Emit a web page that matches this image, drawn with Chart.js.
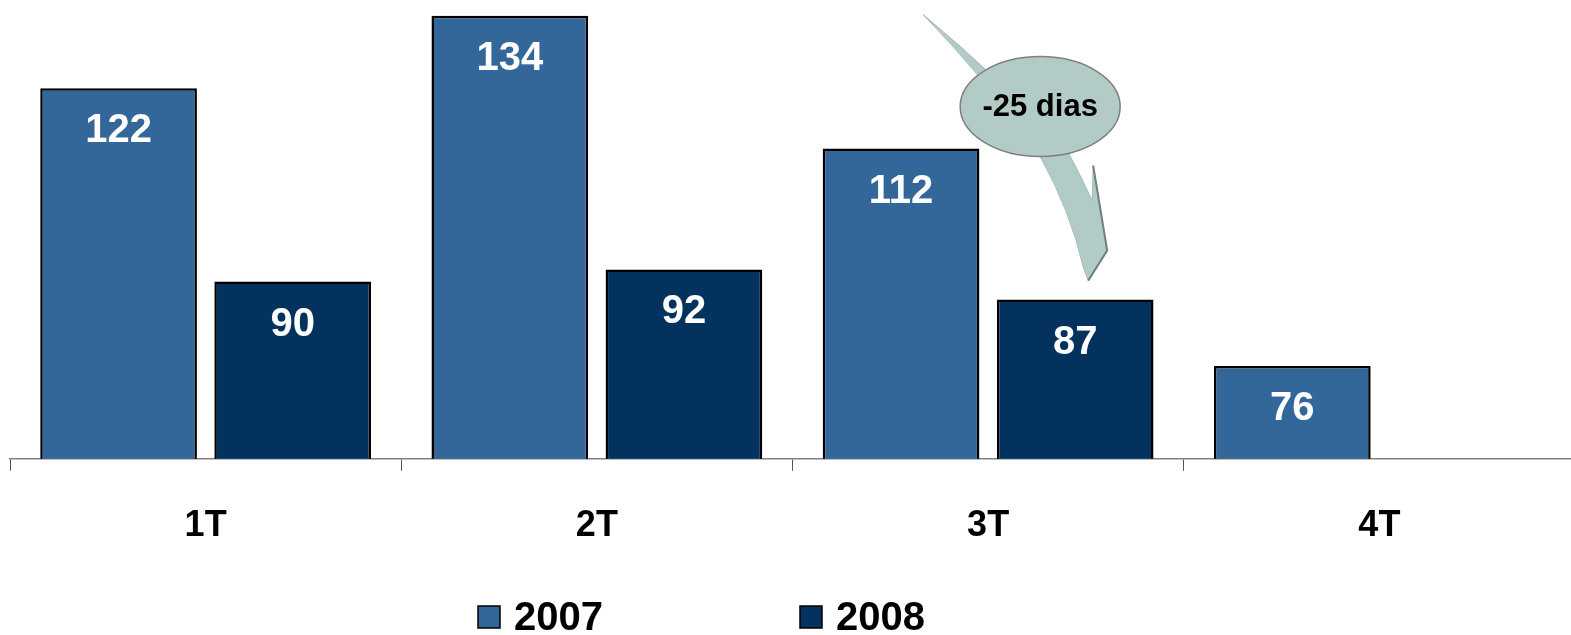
<!DOCTYPE html>
<html lang="pt">
<head>
<meta charset="UTF-8">
<title>Prazo médio por trimestre</title>
<style>
    html, body { margin: 0; padding: 0; background: #ffffff; overflow: hidden; }
    .wrap { width: 1575px; height: 635px; position: relative; }
</style>
</head>
<body>
<div class="wrap"><canvas id="grafico"></canvas></div>

<script src="https://cdn.jsdelivr.net/npm/chart.js@4.4.3/dist/chart.umd.min.js"></script>
<script>
    // dados
    const trimestres = ['1T', '2T', '3T', '4T'];
    const serie2007 = [122, 134, 112, 76];
    const serie2008 = [90, 92, 87, null];
    const anos = ['2007', '2008'];
    const textoSeta = '-25 dias';

    const FONTE = '"Liberation Sans", Arial, sans-serif';
    const cores = ['#336699', '#03325f'];

    // rótulos brancos dentro das barras
    const rotulos = {
        id: 'rotulos',
        afterDatasetsDraw(chart) {
            const ctx = chart.ctx;
            ctx.save();
            ctx.fillStyle = '#ffffff';
            ctx.font = 'bold 40px ' + FONTE;
            ctx.textAlign = 'center';
            ctx.textBaseline = 'middle';
            chart.data.datasets.forEach((ds, i) => {
                chart.getDatasetMeta(i).data.forEach((bar, j) => {
                    if (ds.data[j] == null) return;
                    ctx.fillText(ds.data[j], bar.x, bar.y + 43);
                });
            });
            ctx.restore();
        }
    };

    // seta curva com balão "-25 dias", presa à barra 3T/2008
    const seta = {
        id: 'seta',
        afterDatasetsDraw(chart) {
            const b = chart.getDatasetMeta(1).data[2];
            if (!b) return;
            const ox = b.x + 13, oy = b.y - 19; // ponta da seta
            const p = (dx, dy) => [ox + dx, oy + dy];
            const ctx = chart.ctx;
            ctx.save();
            ctx.beginPath();
            ctx.moveTo(...p(-165, -266));
            ctx.quadraticCurveTo(...p(-98, -197), ...p(-48, -124));
            ctx.quadraticCurveTo(...p(-18, -70), ...p(-5, -14));
            ctx.lineTo(...p(0, 0));
            ctx.lineTo(...p(19, -30));
            ctx.lineTo(...p(5, -115));
            ctx.lineTo(...p(4, -80));
            ctx.quadraticCurveTo(...p(-10, -110), ...p(-21, -130));
            ctx.quadraticCurveTo(...p(-88, -202), ...p(-165, -266));
            ctx.closePath();
            ctx.fillStyle = '#b3cbc6';
            ctx.fill();
            ctx.strokeStyle = '#a4bab6';
            ctx.lineWidth = 1;
            ctx.stroke();
            // sombra na borda direita da ponta
            ctx.beginPath();
            ctx.moveTo(...p(5, -115));
            ctx.lineTo(...p(19, -30));
            ctx.lineTo(...p(0, 0));
            ctx.strokeStyle = '#6f807d';
            ctx.lineWidth = 2;
            ctx.stroke();

            // balão
            const cx = ox - 48, cy = oy - 174;
            ctx.beginPath();
            ctx.ellipse(cx, cy, 80, 50, 0, 0, Math.PI * 2);
            ctx.fillStyle = '#b3cbc6';
            ctx.fill();
            ctx.strokeStyle = '#7f7f7f';
            ctx.lineWidth = 1.5;
            ctx.stroke();
            ctx.fillStyle = '#000000';
            ctx.font = 'bold 31px ' + FONTE;
            ctx.textAlign = 'center';
            ctx.textBaseline = 'middle';
            ctx.fillText(textoSeta, cx, cy + 1);
            ctx.restore();
        }
    };

    // legenda embaixo
    const legenda = {
        id: 'legenda',
        afterDraw(chart) {
            const ctx = chart.ctx;
            const xs = [478, 800];
            const y = 617;
            ctx.save();
            ctx.font = 'bold 40px ' + FONTE;
            ctx.textBaseline = 'middle';
            chart.data.datasets.forEach((ds, i) => {
                ctx.fillStyle = ds.backgroundColor;
                ctx.fillRect(xs[i], y - 11, 22, 22);
                ctx.strokeStyle = '#000000';
                ctx.lineWidth = 1.5;
                ctx.strokeRect(xs[i], y - 11, 22, 22);
                ctx.fillStyle = '#000000';
                ctx.fillText(ds.label, xs[i] + 36, y + 2);
            });
            ctx.restore();
        }
    };

    new Chart(document.getElementById('grafico'), {
        type: 'bar',
        data: {
            labels: trimestres,
            datasets: [
                { label: anos[0], data: serie2007, backgroundColor: cores[0] },
                { label: anos[1], data: serie2008, backgroundColor: cores[1] }
            ]
        },
        options: {
            responsive: true,
            maintainAspectRatio: false,
            animation: false,
            layout: { padding: { left: 10, right: 0, top: 0, bottom: 53 } },
            datasets: {
                bar: {
                    borderColor: '#000000',
                    borderWidth: 2.5,
                    borderSkipped: false,
                    categoryPercentage: 0.89,
                    barPercentage: 0.9
                }
            },
            plugins: {
                legend: { display: false },
                tooltip: { enabled: false }
            },
            scales: {
                x: {
                    border: { color: '#808080', width: 1.5 },
                    grid: { drawOnChartArea: false, tickLength: 12, color: '#555555', tickColor: '#555555' },
                    ticks: {
                        color: '#000000',
                        padding: 34,
                        font: { family: FONTE, size: 36, weight: 'bold' }
                    }
                },
                y: {
                    display: false,
                    min: 60.65,
                    max: 136.6
                }
            }
        },
        plugins: [rotulos, seta, legenda]
    });
</script>
</body>
</html>
